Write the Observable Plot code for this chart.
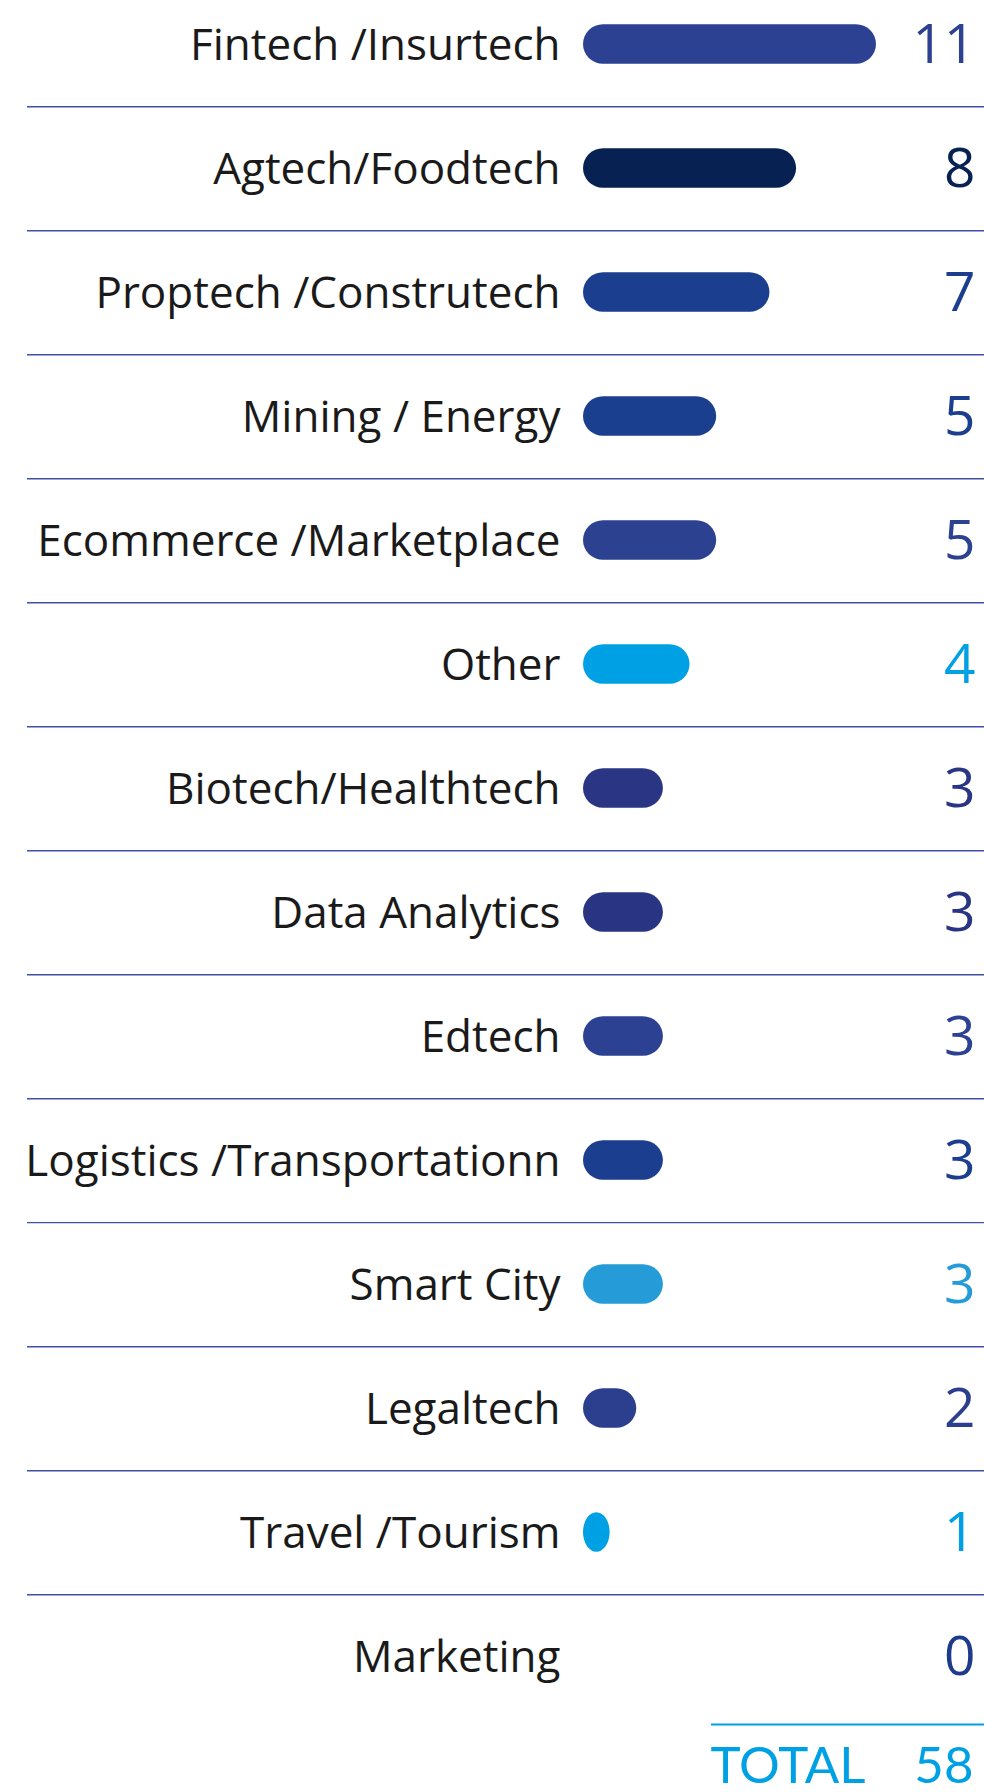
<!DOCTYPE html>
<html>
<head>
<meta charset="utf-8">
<script src="https://cdn.jsdelivr.net/npm/d3@7"></script>
<script src="https://cdn.jsdelivr.net/npm/@observablehq/plot@0.6"></script>
<style>
  html, body { margin: 0; padding: 0; background: #fff; }
  #chart svg { display: block; }
</style>
</head>
<body>
<div id="chart"></div>
<script>
const categories = [
  "Fintech /Insurtech",
  "Agtech/Foodtech",
  "Proptech /Construtech",
  "Mining / Energy",
  "Ecommerce /Marketplace",
  "Other",
  "Biotech/Healthtech",
  "Data Analytics",
  "Edtech",
  "Logistics /Transportationn",
  "Smart City",
  "Legaltech",
  "Travel /Tourism",
  "Marketing"
];
const values = [11, 8, 7, 5, 5, 4, 3, 3, 3, 3, 3, 2, 1, 0];
const colors = [
  "#2c4191", "#072252", "#1b3e8f", "#1b3f8f", "#2c4190", "#00a1e4", "#2a3683",
  "#293582", "#2c4192", "#1b3e8f", "#259cd7", "#2c3f8f", "#00a1e4", "#1e3a8a"
];
const totalLabel = ["TOTAL"];
const totalValue = [58];

const data = categories.map((c, i) => ({category: c, value: values[i], color: colors[i]}));

const W = 985;
const step = 124.35;
const firstCenter = 42;
const r0 = firstCenter - step / 2;
const barH = 40;
const labelFont = "'Open Sans', 'Noto Sans', sans-serif";
const numFont = "'Open Sans', 'Noto Sans', sans-serif";
const totalFont = "Lato, 'Open Sans', sans-serif";

const main = Plot.plot({
  width: W,
  height: 1720,
  marginLeft: 27,
  marginRight: 1,
  marginTop: 0,
  marginBottom: 0,
  style: {fontFamily: numFont, background: "transparent", overflow: "visible"},
  x: {domain: [0, 11], range: [583, 876], axis: null},
  y: {type: "band", domain: categories, range: [r0, r0 + step * categories.length], padding: 0, axis: null},
  marks: [
    Plot.ruleY(categories.slice(0, -1), {y: d => d, dy: step / 2, stroke: "#3f51a5", strokeWidth: 1.4}),
    Plot.barX(data, {
      x: "value", y: "category", fill: "color", rx: 20,
      insetTop: (step - barH) / 2, insetBottom: (step - barH) / 2
    }),
    Plot.text(data, {
      x: 0, y: "category", text: "category", textAnchor: "end", dx: -23, dy: 1,
      fontSize: 44, fontFamily: labelFont, fill: "#1a1a1a"
    }),
    Plot.text(data, {
      frameAnchor: "right", y: "category", text: d => String(d.value), textAnchor: "end", dx: -9, dy: 1,
      fontSize: 55, fontWeight: 400, fontFamily: numFont, fill: "color"
    })
  ]
});

const totals = Plot.plot({
  width: W,
  height: 72,
  marginLeft: 711,
  marginRight: 1,
  marginTop: 4,
  marginBottom: 0,
  style: {fontFamily: totalFont, background: "transparent", overflow: "visible"},
  x: {axis: null},
  y: {domain: [0, 1], range: [4, 72], axis: null},
  marks: [
    Plot.ruleY([0], {stroke: "#00a1e4", strokeWidth: 2}),
    Plot.text(totalLabel, {
      frameAnchor: "bottom-left", text: d => d, textAnchor: "start", lineAnchor: "bottom",
      dy: -10, dx: -1, fontSize: 51, fontWeight: 400, fill: "#00a1e4"
    }),
    Plot.text(totalValue, {
      frameAnchor: "bottom-right", text: d => String(d), textAnchor: "end", lineAnchor: "bottom",
      dy: -10, dx: -11, fontSize: 51, fontWeight: 400, fill: "#00a1e4"
    })
  ]
});

const el = document.getElementById("chart");
el.appendChild(main);
el.appendChild(totals);
</script>
</body>
</html>
